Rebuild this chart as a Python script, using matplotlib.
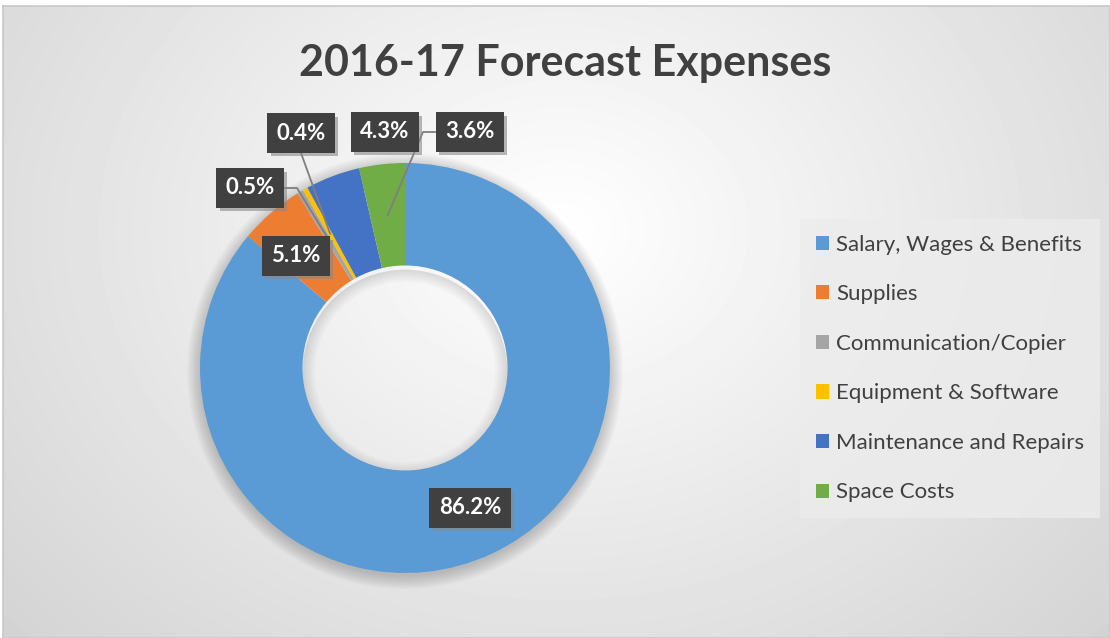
import numpy as np
import matplotlib.pyplot as plt
import matplotlib.patheffects as pe
from matplotlib.patches import Patch, Wedge

categories = ['Salary, Wages & Benefits', 'Supplies', 'Communication/Copier',
              'Equipment & Software', 'Maintenance and Repairs', 'Space Costs']
shares = [86.2, 5.1, 0.5, 0.4, 4.3, 3.6]
labels = ['86.2%', '5.1%', '0.5%', '0.4%', '4.3%', '3.6%']
colors = ['#5B9BD5', '#ED7D31', '#A5A5A5', '#FFC000', '#4472C4', '#70AD47']

plt.rcParams['font.family'] = ['Lato', 'DejaVu Sans']

W, H = 1110, 638
fig = plt.figure(figsize=(W / 100, H / 100), dpi=100)
fig.patch.set_facecolor('white')

# chart area background, soft radial gradient
bg = fig.add_axes([3 / W, 0, (W - 3) / W, (H - 6) / H])
yy, xx = np.mgrid[6:H, 3:W]
d = np.sqrt(((xx - 560) / 1.25) ** 2 + (yy - 230) ** 2)
v = 1 - 0.16 * np.clip(d / 560, 0, 1.25)
bg.imshow(v, cmap='gray', vmin=0, vmax=1, aspect='auto', interpolation='bilinear')
bg.set_xticks([])
bg.set_yticks([])
for s in bg.spines.values():
    s.set_color('#c8c8c8')
    s.set_linewidth(1.2)

# donut
cx, cy, R = 405, 368, 205
ax = fig.add_axes([(cx - 300) / W, (H - cy - 300) / H, 600 / W, 600 / H])
ax.patch.set_alpha(0)

# soft shadow outside the ring and inside the hole
for k in range(10):
    r = 1.0 + k * 0.007
    ax.add_patch(Wedge((0, -0.015), r, 0, 360, width=r - 0.9, color='black',
                       alpha=0.02, lw=0, zorder=0))
for k in range(6):
    ax.add_patch(Wedge((0, -0.02), 0.5, 0, 360, width=0.01 * (k + 1), color='black',
                       alpha=0.018, lw=0, zorder=0))

wedges, _ = ax.pie(shares, radius=1, startangle=90, counterclock=False, colors=colors,
                   wedgeprops=dict(width=0.5, edgecolor='none'))
ax.set_xlim(-300 / R, 300 / R)
ax.set_ylim(-300 / R, 300 / R)
ax.set_aspect('equal')
ax.axis('off')


def to_data(px, py):
    return (px - cx) / R, (cy - py) / R


def anchor(w, r=0.75):
    a = np.deg2rad((w.theta1 + w.theta2) / 2)
    return r * np.cos(a), r * np.sin(a)


# label box centres (pixels)
label_pos = [(470, 508), (296, 256), (250, 188), (301, 133), (385, 132), (470, 132)]
shadow = [pe.SimplePatchShadow(offset=(2.5, -2.5), shadow_rgbFace='#888888', alpha=0.6), pe.Normal()]
for i, (lab, (px, py)) in enumerate(zip(labels, label_pos)):
    t = ax.text(*to_data(px, py), lab, ha='center', va='center', fontsize=16,
                fontweight='bold', color='white', zorder=6,
                bbox=dict(boxstyle='square,pad=0.42', fc='#404040', ec='none'))
    t.get_bbox_patch().set_path_effects(shadow)

lc = '#7f7f7f'
# leader lines for the small slices
x0, y0 = to_data(label_pos[2][0] + 35, label_pos[2][1])
x1, _ = to_data(label_pos[2][0] + 47, label_pos[2][1])
ax.plot([x0, x1, anchor(wedges[2])[0]], [y0, y0, anchor(wedges[2])[1]], color=lc, lw=1.3, zorder=4)
x0, y0 = to_data(label_pos[3][0], label_pos[3][1] + 20)
ax.plot([x0, anchor(wedges[3])[0]], [y0, anchor(wedges[3])[1]], color=lc, lw=1.3, zorder=4)
x0, y0 = to_data(label_pos[5][0] - 35, label_pos[5][1])
x1, _ = to_data(label_pos[5][0] - 47, label_pos[5][1])
ax.plot([x0, x1, anchor(wedges[5])[0]], [y0, y0, anchor(wedges[5])[1]], color=lc, lw=1.3, zorder=4)

fig.text(565 / W, 1 - 63 / H, '2016-17 Forecast Expenses', ha='center', va='center',
         fontsize=31, fontweight='bold', color='#404040')

handles = [Patch(facecolor=c, edgecolor='none') for c in colors]
leg = fig.legend(handles, categories, loc='center',
                 bbox_to_anchor=((802 + 1098) / 2 / W, 1 - (217 + 520) / 2 / H),
                 fontsize=16, frameon=True, fancybox=False, handlelength=0.6,
                 handleheight=0.6, handletextpad=0.3, labelspacing=1.33, borderpad=0.7)
leg.get_frame().set_facecolor('#ececec')
leg.get_frame().set_edgecolor('none')
leg.get_frame().set_alpha(0.8)
for t in leg.get_texts():
    t.set_color('#404040')

fig.savefig('out.png', dpi=100)
